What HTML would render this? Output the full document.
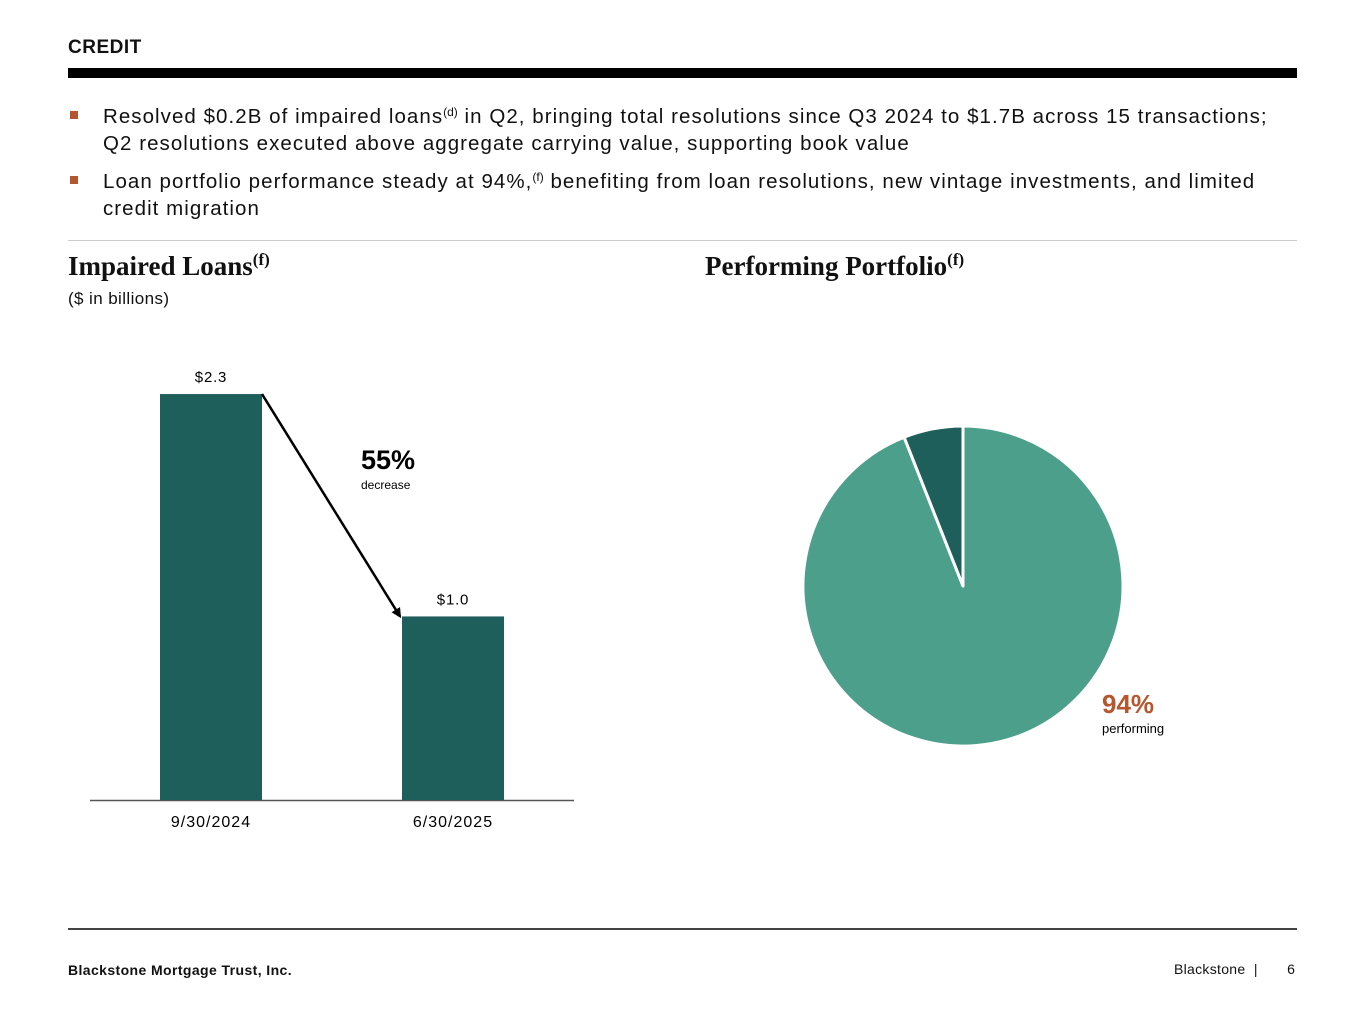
<!DOCTYPE html>
<html><head><meta charset="utf-8"><style>
body{margin:0;width:1365px;height:1024px;background:#fff;position:relative;overflow:hidden;font-family:"Liberation Sans",sans-serif;color:#111}
.abs{position:absolute;white-space:nowrap}
.bul{font-size:20.5px;line-height:27px;letter-spacing:1.05px}
.sq{position:absolute;width:8px;height:8px;background:#b5562f}
sup{font-size:12px;vertical-align:7px;line-height:0;letter-spacing:0}
.h{font-family:"Liberation Serif",serif;font-weight:bold;font-size:27px}
.h sup{font-size:17px;vertical-align:10px}
</style></head><body>
<div class="abs" style="left:68px;top:37px;font-size:19px;font-weight:bold;letter-spacing:0.5px">CREDIT</div>
<div class="abs" style="left:68px;top:68px;width:1229px;height:10px;background:#000"></div>

<div class="sq" style="left:70px;top:111px"></div>
<div class="abs bul" style="left:103px;top:103px">Resolved $0.2B of impaired loans<sup>(d)</sup> in Q2, bringing total resolutions since Q3 2024 to $1.7B across 15 transactions;<br>Q2 resolutions executed above aggregate carrying value, supporting book value</div>
<div class="sq" style="left:70px;top:176px"></div>
<div class="abs bul" style="left:103px;top:168px">Loan portfolio performance steady at 94%,<sup>(f)</sup> benefiting from loan resolutions, new vintage investments, and limited<br>credit migration</div>

<div class="abs" style="left:68px;top:240px;width:1229px;height:1px;background:#ccc"></div>
<div class="abs h" style="left:68px;top:251px">Impaired Loans<sup>(f)</sup></div>
<div class="abs" style="left:68px;top:289px;font-size:17px;letter-spacing:0.4px">($ in billions)</div>
<div class="abs h" style="left:705px;top:251px">Performing Portfolio<sup>(f)</sup></div>

<svg class="abs" style="left:0;top:0" width="1365" height="1024">
<defs><marker id="ah" markerWidth="10" markerHeight="10" refX="8" refY="5" orient="auto" markerUnits="userSpaceOnUse"><path d="M0,0 L10,5 L0,10 z" fill="#000"/></marker></defs>
<g id="bars"></g>
<g id="pie"></g>
</svg>

<div class="abs" style="left:68px;top:928px;width:1229px;height:2px;background:#444"></div>
<div class="abs" style="left:68px;top:962px;font-size:14px;font-weight:bold;letter-spacing:0.4px">Blackstone Mortgage Trust, Inc.</div>
<div class="abs" style="left:1174px;top:961px;font-size:14px;letter-spacing:0.3px">Blackstone &nbsp;|&nbsp;&nbsp;&nbsp;&nbsp;&nbsp;&nbsp; 6</div>

<script>
const categories=["9/30/2024","6/30/2025"];
const values=[2.3,1.04];
const valueLabels=["$2.3","$1.0"];
const pieValues=[94,6];
const pieColors=["#4c9f8b","#1f5f5b"];
const NS="http://www.w3.org/2000/svg";
function mk(t,a,p){const e=document.createElementNS(NS,t);for(const k in a)e.setAttribute(k,a[k]);p.appendChild(e);return e;}
const base=800,scale=176.5,x0=160,step=242,bw=102;
const yS=v=>base-v*scale, xS=i=>x0+i*step;
const g=document.getElementById('bars');
const ax=mk('line',{x1:90,x2:574,y1:800.5,y2:800.5,stroke:'#555','stroke-width':1.5},g);


values.forEach((v,i)=>{
 const r=mk('rect',{x:xS(i),y:yS(v),width:bw,height:base-yS(v),fill:'#1f5f5b'},g);
 
 
 const t=mk('text',{x:xS(i)+bw/2,y:yS(v)-12,'text-anchor':'middle','font-size':15,'font-family':'Liberation Sans','letter-spacing':0.8},g);t.textContent=valueLabels[i];
 
 
 const c=mk('text',{x:xS(i)+bw/2,y:827,'text-anchor':'middle','font-size':16,'font-family':'Liberation Sans','letter-spacing':1},g);c.textContent=categories[i];
 
 
});
const arr=mk('line',{x1:xS(0)+bw,y1:yS(values[0]),x2:xS(1)-2,y2:yS(values[1]),stroke:'#000','stroke-width':2.5,'marker-end':'url(#ah)'},g);


const p1=mk('text',{x:361,y:469,'font-size':27,'font-weight':'bold','font-family':'Liberation Sans'},g);p1.textContent="55%";


const p2=mk('text',{x:361,y:489,'font-size':12,'font-family':'Liberation Sans'},g);p2.textContent="decrease";



const pg=document.getElementById('pie');
const cx=963,cy=586,R=160;
const tot=pieValues.reduce((a,b)=>a+b,0);
let ang=0;
pieValues.forEach((v,i)=>{
 const a0=ang,a1=ang+v/tot*2*Math.PI;ang=a1;
 const P=a=>[cx+R*Math.sin(a),cy-R*Math.cos(a)];
 const s=P(a0),e=P(a1),lg=(a1-a0)>Math.PI?1:0;
 const sl=mk('path',{d:`M${cx},${cy} L${s[0]},${s[1]} A${R},${R} 0 ${lg} 1 ${e[0]},${e[1]} Z`,fill:pieColors[i],stroke:'#fff','stroke-width':3,'stroke-linejoin':'round'},pg);
 
 
});
const q1=mk('text',{x:1102,y:713,'font-size':26,'font-weight':'bold',fill:'#b5562f','font-family':'Liberation Sans'},pg);q1.textContent=pieValues[0]+"%";


const q2=mk('text',{x:1102,y:733,'font-size':13,'font-family':'Liberation Sans'},pg);q2.textContent="performing";


</script>
</body></html>
